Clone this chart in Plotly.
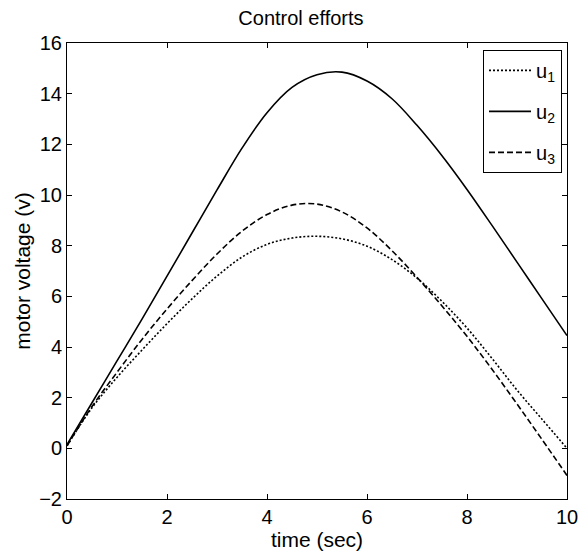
import plotly.graph_objects as go

t = [0, 0.5, 1, 1.5, 2, 2.5, 3, 3.5, 4, 4.5, 5, 5.5, 6, 6.5, 7, 7.5, 8, 8.5, 9, 9.5, 10]
u1 = [0.1, 1.6, 2.8, 3.88, 4.92, 5.9, 6.8, 7.55, 8.05, 8.3, 8.37, 8.27, 7.98, 7.45, 6.72, 5.8, 4.75, 3.55, 2.3, 1.15, 0.0]
u2 = [0.15, 1.8, 3.45, 5.1, 6.8, 8.5, 10.2, 11.85, 13.25, 14.25, 14.75, 14.85, 14.5, 13.8, 12.75, 11.55, 10.22, 8.8, 7.35, 5.9, 4.45]
u3 = [0.1, 1.65, 3.0, 4.3, 5.5, 6.62, 7.67, 8.57, 9.23, 9.6, 9.64, 9.33, 8.7, 7.8, 6.75, 5.62, 4.42, 3.12, 1.75, 0.35, -1.07]

series = [("u<sub>1</sub>", u1, "2px,2px"),
          ("u<sub>2</sub>", u2, "solid"),
          ("u<sub>3</sub>", u3, "6px,3px")]

fig = go.Figure()
for i, (name, y, dash) in enumerate(series):
    fig.add_trace(go.Scatter(x=t, y=y, mode="lines", name=name, legendgroup=str(i),
                             line=dict(color="black", width=1.6, dash=dash, shape="spline", smoothing=1.0)))

font = "Liberation Sans, Arial, sans-serif"
axis_common = dict(showline=True, linecolor="black", linewidth=1, mirror="ticks",
                   ticks="inside", ticklen=5, tickcolor="black", showgrid=False,
                   zeroline=False, automargin=False,
                   tickfont=dict(family=font, size=20, color="black"))
fig.update_layout(
    width=581, height=557,
    margin=dict(l=67, r=14, t=43, b=58),
    paper_bgcolor="white", plot_bgcolor="white",
    title=dict(text="Control efforts", x=0.518, xanchor="center", xref="container",
               y=0.967, yanchor="middle", yref="container",
               font=dict(family=font, size=20, color="black")),
    xaxis=dict(range=[0, 10], tickvals=[0, 2, 4, 6, 8, 10],
               title=dict(text="time (sec)", font=dict(family=font, size=21, color="black"), standoff=0),
               **axis_common),
    yaxis=dict(range=[-2, 16], tickvals=list(range(-2, 17, 2)),
               title=dict(text="motor voltage (v)", font=dict(family=font, size=21, color="black"), standoff=2),
               **axis_common),
    legend=dict(x=0.99, y=0.985, xanchor="right", yanchor="top", bordercolor="black", borderwidth=1,
                bgcolor="white", font=dict(family=font, size=20, color="black"),
                traceorder="grouped", tracegroupgap=12, itemwidth=42),
    showlegend=True,
)
fig.write_html("out.html")
